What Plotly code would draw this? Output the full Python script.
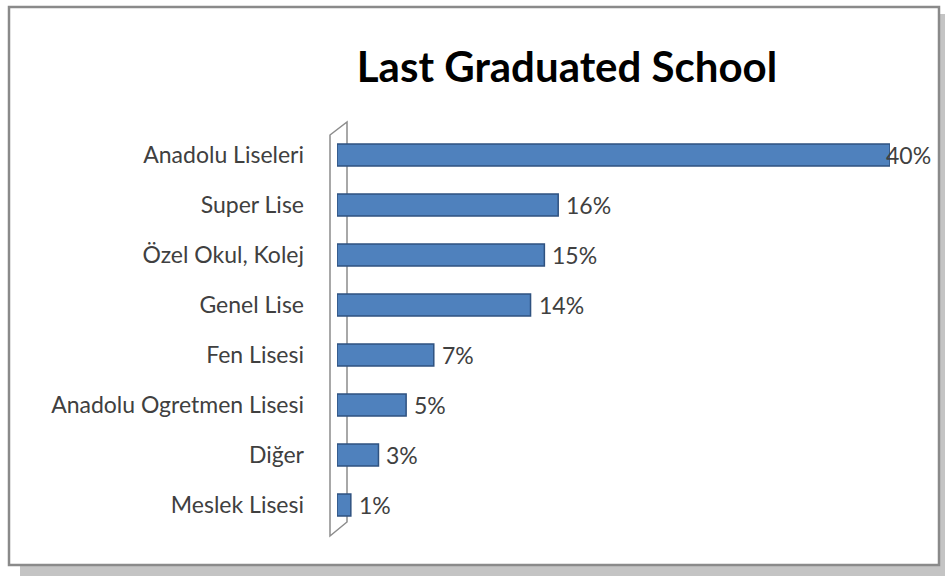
import plotly.graph_objects as go

W, H = 945, 576

schools = [
    "Anadolu Liseleri",
    "Super Lise",
    "Özel Okul, Kolej",
    "Genel Lise",
    "Fen Lisesi",
    "Anadolu Ogretmen Lisesi",
    "Diğer",
    "Meslek Lisesi",
]
shares = [40, 16, 15, 14, 7, 5, 3, 1]
labels = [f"{v}%" for v in shares]

FONT = "Lato, Open Sans, sans-serif"


def px(x, y):
    # pixel -> paper coordinates (margins are zero)
    return x / W, 1 - y / H


fig = go.Figure()
fig.add_trace(
    go.Bar(
        x=shares,
        y=schools,
        orientation="h",
        width=0.44,
        marker={"color": "#4f81bd", "line": {"color": "#2f5280", "width": 1.5}},
        hoverinfo="skip",
        showlegend=False,
    )
)

# value labels, a little away from the bar ends
for school, value, label in zip(schools, shares, labels):
    fig.add_annotation(
        x=value,
        y=school,
        text=label,
        showarrow=False,
        xanchor="left",
        xshift=6 if value < 40 else -6,
        font={"family": FONT, "size": 23, "color": "#404040"},
    )

shapes = []
# drop shadow and chart frame
sx0, sy0 = px(20, 14)
sx1, sy1 = px(945, 576)
shapes.append(dict(type="rect", xref="paper", yref="paper", x0=sx0, y0=sy1, x1=sx1, y1=sy0,
                   fillcolor="#c4c4c4", line={"width": 0}, layer="below"))
fx0, fy0 = px(9, 7)
fx1, fy1 = px(939, 565)
shapes.append(dict(type="rect", xref="paper", yref="paper", x0=fx0, y0=fy1, x1=fx1, y1=fy0,
                   fillcolor="white", line={"color": "#8a8a8a", "width": 2.5}, layer="below"))

# 3d wall outline
pts = [(330, 135), (347, 122), (347, 522), (330, 536)]
path = "M " + " L ".join(f"{px(*p)[0]},{px(*p)[1]}" for p in pts) + " Z"
shapes.append(dict(type="path", xref="paper", yref="paper", path=path,
                   line={"color": "#8c8c8c", "width": 1.5}, layer="below"))

fig.update_layout(
    width=W,
    height=H,
    margin={"l": 0, "r": 0, "t": 0, "b": 0},
    paper_bgcolor="white",
    plot_bgcolor="rgba(0,0,0,0)",
    shapes=shapes,
    title={
        "text": "<b>Last Graduated School</b>",
        "x": 567 / W,
        "xanchor": "center",
        "y": 1 - 67 / H,
        "yanchor": "middle",
        "font": {"family": FONT, "size": 42, "color": "#000000"},
    },
)
fig.update_xaxes(
    domain=[337 / W, 890 / W],
    range=[0, 40],
    visible=False,
    fixedrange=True,
)
fig.update_yaxes(
    domain=[(H - 530) / H, (H - 130) / H],
    autorange="reversed",
    showgrid=False,
    showline=False,
    ticks="",
    ticklabelstandoff=32,
    tickfont={"family": FONT, "size": 23, "color": "#404040"},
    fixedrange=True,
)

fig.write_html(
    "out.html",
    config={"displayModeBar": False},
    post_script="document.body.style.margin='0';",
)
